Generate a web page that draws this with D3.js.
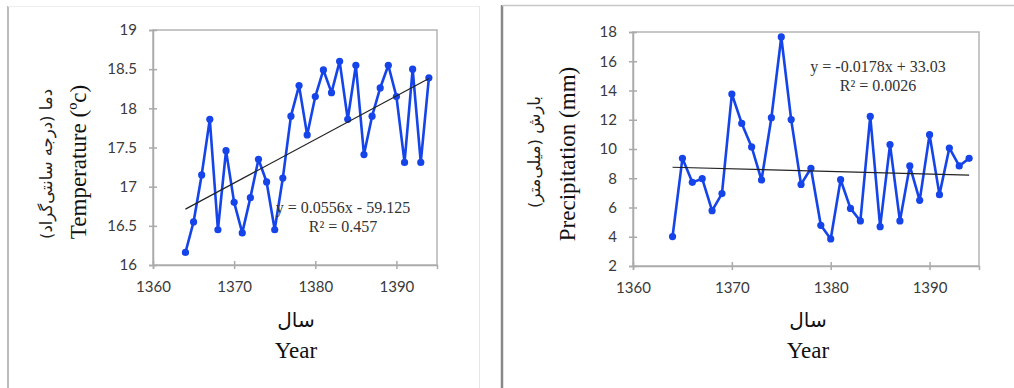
<!DOCTYPE html>
<html><head><meta charset="utf-8">
<script src="https://cdn.jsdelivr.net/npm/d3@7"></script>
<style>
body{margin:0;background:#fff;}
svg{display:block;}
.tick text{font-family:Lato,"Open Sans",sans-serif;font-size:15px;fill:#3a3a3a;}
</style></head><body>
<svg id="c" width="1014" height="388"></svg>
<script>
const years = [1364,1365,1366,1367,1368,1369,1370,1371,1372,1373,1374,1375,1376,1377,1378,1379,1380,1381,1382,1383,1384,1385,1386,1387,1388,1389,1390,1391,1392,1393,1394];
const temperature = [16.16,16.55,17.15,17.86,16.45,17.46,16.80,16.41,16.86,17.35,17.06,16.45,17.11,17.90,18.29,17.66,18.15,18.49,18.20,18.60,17.86,18.55,17.41,17.90,18.26,18.55,18.15,17.31,18.50,17.31,18.39];
const precipitation = [4.01,9.36,7.72,7.97,5.78,6.95,13.76,11.75,10.14,7.88,12.14,17.66,12.01,7.58,8.68,4.78,3.85,7.90,5.94,5.08,12.23,4.69,10.30,5.08,8.84,6.49,10.98,6.88,10.07,8.84,9.36];
const xTicks = [1360,1370,1380,1390];
const tempTicks = [16,16.5,17,17.5,18,18.5,19];
const precTicks = [2,4,6,8,10,12,14,16,18];
const tempTrend = {slope:0.0556, intercept:-59.125, label:"y = 0.0556x - 59.125", r2:"R² = 0.457"};
const precTrend = {slope:-0.0178, intercept:33.03, label:"y = -0.0178x + 33.03", r2:"R² = 0.0026"};

const svg = d3.select("#c");

// panel frames
svg.append("line").attr("x1",8).attr("x2",8).attr("y1",6).attr("y2",388).attr("stroke","#bbb").attr("stroke-width",2);
svg.append("line").attr("x1",8).attr("x2",480).attr("y1",6.5).attr("y2",6.5).attr("stroke","#eee").attr("stroke-width",1);
svg.append("line").attr("x1",479.5).attr("x2",479.5).attr("y1",6).attr("y2",388).attr("stroke","#e6e6e6").attr("stroke-width",1);
svg.append("line").attr("x1",502).attr("x2",502).attr("y1",5).attr("y2",388).attr("stroke","#888").attr("stroke-width",2.5);
svg.append("line").attr("x1",502).attr("x2",1014).attr("y1",5.5).attr("y2",5.5).attr("stroke","#c8c8c8").attr("stroke-width",1.5);

function chart(cfg){
  const x = d3.scaleLinear().domain([1360,1395]).range([cfg.x0,cfg.x1]);
  const y = d3.scaleLinear().domain(cfg.ydom).range([cfg.y1,cfg.y0]);
  const g = svg.append("g");
  // plot border
  g.append("rect").attr("x",cfg.x0).attr("y",cfg.y0).attr("width",cfg.x1-cfg.x0).attr("height",cfg.y1-cfg.y0)
    .attr("fill","none").attr("stroke","#b4b4b4").attr("stroke-width",1.5);
  // axes
  const ya = g.append("g").attr("transform",`translate(${cfg.x0},0)`)
    .call(d3.axisLeft(y).tickValues(cfg.yticks).tickSize(4).tickPadding(12).tickFormat(d3.format("")));
  ya.select(".domain").attr("stroke","#aaa").attr("stroke-width",1.5);
  ya.selectAll(".tick line").attr("stroke","#aaa").attr("stroke-width",1.5).attr("x2",4).attr("x1",-4);
  const xa = g.append("g").attr("transform",`translate(0,${cfg.y1})`)
    .call(d3.axisBottom(x).tickValues(xTicks).tickSize(4).tickPadding(12).tickFormat(d3.format("d")));
  xa.select(".domain").attr("stroke","#aaa").attr("stroke-width",1.5);
  xa.selectAll(".tick line").attr("stroke","#aaa").attr("stroke-width",1.5).attr("y1",-4).attr("y2",4);
  // series line
  const pts = years.map((yr,i)=>[yr,cfg.values[i]]);
  g.append("path").datum(pts).attr("fill","none").attr("stroke","#1444ea").attr("stroke-width",2.6)
    .attr("stroke-linejoin","round")
    .attr("d",d3.line().x(d=>x(d[0])).y(d=>y(d[1])));
  g.selectAll("circle.pt").data(pts).join("circle").attr("class","pt")
    .attr("cx",d=>x(d[0])).attr("cy",d=>y(d[1])).attr("r",3.6).attr("fill","#1444ea");
  // trend line
  const t = cfg.trend, x0y = years[0], x1y = years[years.length-1];
  g.append("line").attr("x1",x(x0y)).attr("x2",x(x1y))
    .attr("y1",y(t.slope*x0y+t.intercept)).attr("y2",y(t.slope*x1y+t.intercept))
    .attr("stroke","#222").attr("stroke-width",1.2);
  // trend labels
  const tl = g.append("g").attr("font-family","'Liberation Serif','Times New Roman',serif").attr("font-size",16).attr("fill","#333").attr("text-anchor","middle");
  tl.append("text").attr("x",cfg.eqx).attr("y",cfg.eqy).text(t.label);
  tl.append("text").attr("x",cfg.eqx).attr("y",cfg.eqy+19).text(t.r2);
  // axis titles
  g.append("text").attr("transform",`translate(${cfg.ytx},${cfg.yty}) rotate(-90)`)
    .attr("text-anchor","middle").attr("font-family","'Liberation Serif','Times New Roman',serif")
    .attr("font-size",23).attr("fill","#111").text(cfg.ytitle);
  g.append("text").attr("transform",`translate(${cfg.yfx},${cfg.yfy}) rotate(-90)`)
    .attr("text-anchor","middle").attr("font-family","'DejaVu Sans',sans-serif").attr("direction","rtl")
    .attr("font-size",16.5).attr("fill","#222").text(cfg.yfa);
  g.append("text").attr("x",cfg.xc).attr("y",327).attr("text-anchor","middle")
    .attr("font-family","'DejaVu Sans',sans-serif").attr("font-size",20).attr("fill","#111").text("سال");
  g.append("text").attr("x",cfg.xc).attr("y",358).attr("text-anchor","middle")
    .attr("font-family","'Liberation Serif','Times New Roman',serif").attr("font-size",23).attr("fill","#111").text("Year");
}

chart({x0:153,x1:437,y0:30,y1:265,ydom:[16,19],yticks:tempTicks,values:temperature,trend:tempTrend,
  eqx:343,eqy:213,ytitle:"Temperature (ºc)",ytx:86,yty:162,yfa:"دما (درجه سانتی‌گراد)",yfx:52,yfy:164,xc:296});
chart({x0:633,x1:979,y0:32,y1:266,ydom:[2,18],yticks:precTicks,values:precipitation,trend:precTrend,
  eqx:878,eqy:72,ytitle:"Precipitation (mm)",ytx:575,yty:154,yfa:"بارش (میلی‌متر)",yfx:540,yfy:152,xc:808});
</script></body></html>
